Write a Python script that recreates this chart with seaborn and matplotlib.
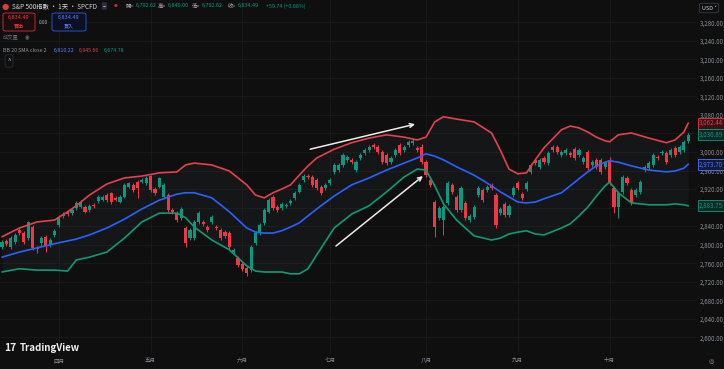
import numpy as np
import pandas as pd
import matplotlib
matplotlib.use('Agg')
import matplotlib.pyplot as plt
import matplotlib.transforms as mtransforms
from matplotlib.patches import FancyBboxPatch
import seaborn as sns

# 日線 K 棒 (index 0..157)
opens = [2795, 2808, 2795, 2806, 2832, 2825, 2815, 2838, 2793, 2804,
         2817, 2799, 2821, 2843, 2862, 2871, 2868, 2879, 2881, 2881,
         2875, 2886, 2894, 2896, 2907, 2912, 2901, 2892, 2903, 2925,
         2929, 2935, 2935, 2933, 2948, 2920, 2925, 2903, 2907, 2875,
         2868, 2858, 2836, 2815, 2815, 2849, 2849, 2838, 2849, 2838,
         2832, 2827, 2825, 2784, 2771, 2758, 2750, 2745, 2804, 2825,
         2847, 2871, 2903, 2881, 2879, 2884, 2890, 2901, 2914, 2940,
         2948, 2946, 2940, 2925, 2922, 2933, 2957, 2961, 2972, 2983,
         2983, 2961, 2987, 2998, 3004, 3015, 3011, 3000, 2994, 2979,
         2994, 3015, 3004, 3015, 3020, 3009, 3011, 2979, 2940, 2892,
         2858, 2853, 2890, 2929, 2903, 2875, 2890, 2853, 2860, 2907,
         2918, 2918, 2929, 2907, 2868, 2888, 2864, 2907, 2933, 2909,
         2920, 2957, 2983, 2968, 2987, 2976, 3011, 3011, 2994, 2998,
         2998, 3007, 2994, 2979, 3000, 2972, 2983, 2983, 2968, 2983,
         2922, 2881, 2914, 2944, 2918, 2907, 2914, 2961, 2966, 2972,
         2989, 2998, 2998, 2994, 3009, 3000, 3004, 3024]
closes = [2806, 2802, 2815, 2821, 2825, 2806, 2849, 2793, 2791, 2815,
          2797, 2810, 2830, 2860, 2866, 2866, 2875, 2890, 2892, 2871,
          2884, 2884, 2903, 2903, 2896, 2892, 2896, 2903, 2929, 2933,
          2918, 2922, 2940, 2944, 2918, 2912, 2944, 2929, 2875, 2871,
          2853, 2877, 2804, 2832, 2849, 2868, 2845, 2832, 2860, 2836,
          2815, 2819, 2795, 2789, 2756, 2748, 2739, 2795, 2825, 2843,
          2875, 2896, 2879, 2875, 2888, 2886, 2894, 2912, 2929, 2948,
          2946, 2929, 2922, 2912, 2929, 2940, 2972, 2972, 2994, 2989,
          2979, 2979, 2994, 3004, 3011, 3011, 3000, 2979, 2976, 2987,
          3004, 2998, 3011, 3022, 3024, 3004, 2979, 2950, 2929, 2838,
          2879, 2881, 2933, 2914, 2875, 2922, 2858, 2862, 2881, 2922,
          2897, 2925, 2922, 2843, 2877, 2864, 2884, 2922, 2922, 2901,
          2933, 2972, 2976, 2983, 2979, 2998, 3004, 3000, 3000, 3004,
          2994, 2987, 3004, 2987, 2966, 2979, 2968, 2957, 2976, 2935,
          2881, 2912, 2946, 2933, 2890, 2918, 2935, 2968, 2976, 2994,
          2987, 3000, 2979, 3004, 2994, 3011, 3022, 3036.89]
highs = [2810, 2812, 2819, 2825, 2836, 2830, 2851, 2843, 2797, 2819,
         2821, 2815, 2834, 2864, 2871, 2875, 2879, 2894, 2896, 2886,
         2888, 2890, 2907, 2907, 2912, 2914, 2905, 2907, 2933, 2935,
         2933, 2940, 2944, 2948, 2950, 2925, 2946, 2933, 2912, 2879,
         2873, 2881, 2840, 2836, 2853, 2873, 2853, 2843, 2864, 2843,
         2836, 2832, 2830, 2793, 2776, 2763, 2754, 2799, 2830, 2847,
         2879, 2901, 2907, 2886, 2892, 2890, 2899, 2916, 2933, 2953,
         2953, 2950, 2944, 2929, 2933, 2944, 2976, 2976, 2998, 2994,
         2987, 2983, 2998, 3009, 3015, 3020, 3015, 3004, 2998, 2991,
         3009, 3020, 3015, 3026, 3028, 3013, 3017, 2983, 2944, 2897,
         2884, 2886, 2938, 2933, 2907, 2927, 2894, 2866, 2886, 2927,
         2922, 2929, 2933, 2912, 2881, 2892, 2888, 2927, 2938, 2914,
         2938, 2976, 2987, 2987, 2991, 3002, 3015, 3015, 3004, 3009,
         3002, 3011, 3009, 2991, 3004, 2983, 2987, 2987, 2981, 2989,
         2927, 2916, 2950, 2948, 2922, 2922, 2940, 2972, 2981, 2998,
         2994, 3004, 3002, 3009, 3013, 3015, 3026, 3041]
lows = [2791, 2797, 2791, 2802, 2821, 2802, 2810, 2789, 2782, 2797,
        2784, 2795, 2817, 2838, 2858, 2862, 2864, 2875, 2879, 2868,
        2871, 2879, 2890, 2894, 2892, 2888, 2894, 2890, 2901, 2922,
        2914, 2901, 2933, 2929, 2914, 2907, 2922, 2899, 2871, 2866,
        2849, 2853, 2795, 2810, 2810, 2845, 2840, 2827, 2845, 2832,
        2810, 2815, 2791, 2780, 2752, 2743, 2733, 2741, 2799, 2821,
        2843, 2868, 2875, 2871, 2875, 2879, 2886, 2896, 2912, 2935,
        2942, 2925, 2918, 2907, 2918, 2929, 2953, 2957, 2968, 2979,
        2974, 2957, 2983, 2994, 3000, 3007, 2996, 2974, 2972, 2974,
        2989, 2994, 3000, 3011, 3015, 3000, 2974, 2946, 2925, 2817,
        2853, 2821, 2886, 2909, 2871, 2871, 2853, 2849, 2856, 2903,
        2892, 2914, 2918, 2836, 2864, 2860, 2860, 2903, 2918, 2897,
        2916, 2953, 2972, 2963, 2974, 2972, 3000, 2996, 2989, 2994,
        2989, 2983, 2989, 2974, 2961, 2968, 2963, 2953, 2963, 2929,
        2868, 2858, 2909, 2929, 2886, 2903, 2909, 2957, 2961, 2968,
        2983, 2994, 2974, 2989, 2989, 2996, 3000, 3020]

# 布林通道 (20, 2) 讀取點
band_idx = [0, 4, 8, 12, 15, 17, 20, 24, 28, 32,
            36, 40, 42, 44, 48, 52, 56, 58, 60, 62,
            64, 66, 68, 70, 72, 76, 80, 84, 88, 92,
            95, 97, 99, 101, 104, 108, 112, 114, 116, 118,
            120, 122, 124, 128, 130, 132, 134, 136, 138, 139,
            141, 144, 148, 152, 154, 156, 157]
bb_upper = [2817, 2836, 2849, 2853, 2871, 2884, 2907, 2931, 2944, 2948,
            2955, 2957, 2972, 2976, 2972, 2959, 2929, 2907, 2901, 2912,
            2920, 2929, 2950, 2970, 2987, 3006, 3020, 3030, 3037, 3032,
            3026, 3032, 3065, 3076, 3071, 3065, 3041, 3004, 2963, 2953,
            2955, 2983, 3009, 3048, 3056, 3052, 3043, 3032, 3024, 3022,
            3037, 3041, 3030, 3020, 3026, 3043, 3062.44]
bb_mid = [2773, 2784, 2793, 2802, 2808, 2812, 2821, 2836, 2855, 2877,
          2896, 2909, 2912, 2912, 2901, 2871, 2836, 2827, 2825, 2825,
          2830, 2838, 2847, 2862, 2877, 2905, 2929, 2944, 2961, 2976,
          2987, 2996, 2991, 2983, 2968, 2950, 2927, 2914, 2903, 2892,
          2890, 2892, 2899, 2912, 2927, 2942, 2957, 2970, 2978, 2981,
          2978, 2970, 2961, 2957, 2959, 2965, 2973.70]
bb_lower = [2741, 2748, 2745, 2745, 2743, 2767, 2773, 2784, 2814, 2849,
            2868, 2868, 2858, 2838, 2810, 2789, 2754, 2743, 2741, 2741,
            2741, 2737, 2737, 2748, 2778, 2836, 2866, 2884, 2914, 2946,
            2963, 2961, 2927, 2888, 2853, 2819, 2810, 2814, 2823, 2827,
            2830, 2823, 2821, 2836, 2845, 2862, 2881, 2905, 2927, 2935,
            2912, 2890, 2886, 2886, 2888, 2886, 2883.75]

month_idx = [13, 34, 55, 75, 97, 118, 139]
month_labels = ['四月', '五月', '六月', '七月', '八月', '九月', '十月']
price_ticks = list(range(2600, 3281, 40))

BG = '#0f0f0f'
UP = '#089981'
DOWN = '#f23645'
BLUE = '#2962ff'
TXT = '#8c8f98'

sns.set_theme(style='dark', rc={'axes.facecolor': BG, 'figure.facecolor': BG})
plt.rcParams['font.family'] = ['Noto Sans CJK TC', 'DejaVu Sans']

candles = pd.DataFrame({'open': opens, 'high': highs, 'low': lows, 'close': closes})
candles['idx'] = np.arange(len(candles))
candles['up'] = candles['close'] >= candles['open']
bands = pd.DataFrame({'idx': band_idx, 'upper': bb_upper, 'mid': bb_mid, 'lower': bb_lower})

fig = plt.figure(figsize=(7.24, 3.69), dpi=100)
ax = fig.add_axes([0, 15 / 369, 697 / 724, 354 / 369])
ax.set_facecolor(BG)

# 通道底色
ax.fill_between(bands['idx'], bands['upper'], bands['lower'], color='#8a96a8', alpha=0.055, lw=0)

# K 棒
cols = np.where(candles['up'], UP, DOWN)
ax.vlines(candles['idx'], candles['low'], candles['high'], colors=cols, lw=0.7, zorder=3)
body_lo = np.minimum(candles['open'], candles['close'])
body_h = np.maximum(np.abs(candles['close'] - candles['open']), 1.2)
ax.bar(candles['idx'], body_h, bottom=body_lo, width=0.72, color=cols, lw=0, zorder=3)

# 布林線
sns.lineplot(data=bands, x='idx', y='upper', color='#e5404f', lw=1.2, ax=ax, zorder=4)
sns.lineplot(data=bands, x='idx', y='mid', color=BLUE, lw=1.2, ax=ax, zorder=4)
sns.lineplot(data=bands, x='idx', y='lower', color='#0e9a74', lw=1.2, ax=ax, zorder=4)

# 箭頭
arrow_kw = dict(arrowstyle='->', color='#ececec', lw=1.1, mutation_scale=7, shrinkA=0, shrinkB=0)
ax.annotate('', xy=(94.5, 3060), xytext=(70.5, 3006), arrowprops=arrow_kw, zorder=6)
ax.annotate('', xy=(96.3, 2948), xytext=(76.4, 2797), arrowprops=arrow_kw, zorder=6)

# 右側價格標籤值 (會蓋住附近刻度)
tags = [(bb_upper[-1], '#f23645', '#3a1216'),
        (closes[-1], UP, '#0b2a24'),
        (bb_mid[-1], '#4a78ff', '#121c3a'),
        (bb_lower[-1], UP, '#0b2a24')]
hidden = [t for t in price_ticks if any(abs(t - v) < 10 for v, _, _ in tags)]

ax.set_xlim(-0.46, 159.0)
ax.set_ylim(2564, 3328)
ax.set_xticks(month_idx)
ax.set_xticklabels(month_labels)
ax.set_yticks(price_ticks)
ax.set_yticklabels(['' if v in hidden else f'{v:,.2f}' for v in price_ticks])
ax.yaxis.tick_right()
ax.tick_params(axis='x', length=0, pad=3, labelsize=4, labelcolor=TXT)
ax.tick_params(axis='y', length=0, pad=2, labelsize=4.4, labelcolor=TXT)
ax.grid(True, color='#1a1a1a', lw=0.6)
ax.set_xlabel('')
ax.set_ylabel('')
for s in ax.spines.values():
    s.set_visible(False)

trans = mtransforms.blended_transform_factory(ax.transAxes, ax.transData)
for val, fg, bgc in tags:
    ax.text(1.003, val, f'{val:,.2f}', transform=trans, fontsize=4.4, color=fg,
            va='center', ha='left', clip_on=False, zorder=10,
            bbox=dict(boxstyle='square,pad=0.25', fc=bgc, ec=fg, lw=0.6))


def fx(x):
    return x / 724


def fy(y):
    return 1 - y / 369


# 標題列
fig.text(fx(2), fy(6), '●', fontsize=6, color='#e03a3a', va='center', family='DejaVu Sans')
fig.text(fx(12), fy(6), 'S&P 500指數 · 1天 · SPCFD', fontsize=4.6, color='#d1d4dc', va='center')
fig.text(fx(103), fy(6), '−', fontsize=3.6, color='#d1d4dc', va='center',
         bbox=dict(boxstyle='round,pad=0.25', fc='#2a2e39', ec='none'))
fig.text(fx(114), fy(6), '●', fontsize=3.2, color='#c03030', va='center', family='DejaVu Sans')
ohlc = [(126, '開', '6,792.62'), (158, '高', '6,840.00'), (192, '低', '6,792.62'), (228, '收', '6,834.49')]
for x, k, v in ohlc:
    fig.text(fx(x), fy(6), k + '=', fontsize=3.9, color='#b2b5be', va='center')
    fig.text(fx(x + 9.5), fy(6), v, fontsize=3.9, color=UP, va='center')
fig.text(fx(266), fy(6), '+59.74 (+0.88%)', fontsize=3.9, color=UP, va='center')

# 買賣按鈕
fig.patches.append(FancyBboxPatch((fx(3), fy(31)), 32 / 724, 18 / 369, transform=fig.transFigure,
                                  boxstyle='round,pad=0,rounding_size=0.004', fc='#1c0c0e', ec='#c8353f', lw=0.6))
fig.patches.append(FancyBboxPatch((fx(52), fy(31)), 34 / 724, 18 / 369, transform=fig.transFigure,
                                  boxstyle='round,pad=0,rounding_size=0.004', fc='#0c1020', ec='#2f5bd8', lw=0.6))
fig.text(fx(19), fy(17.5), '6,834.49', fontsize=4.0, color='#f23645', ha='center', va='center')
fig.text(fx(19), fy(25.5), '賣出', fontsize=3.6, color='#f23645', ha='center', va='center')
fig.text(fx(69), fy(17.5), '6,834.49', fontsize=4.0, color='#5b84ff', ha='center', va='center')
fig.text(fx(69), fy(25.5), '買入', fontsize=3.6, color='#5b84ff', ha='center', va='center')
fig.text(fx(43.5), fy(22), '0.00', fontsize=3.4, color='#b2b5be', ha='center', va='center')

fig.text(fx(3), fy(38), '成交量', fontsize=3.8, color='#6a6d78', va='center')
fig.text(fx(25), fy(38), '◉', fontsize=3.8, color='#6a6d78', va='center', family='DejaVu Sans')

fig.text(fx(3), fy(50), 'BB 20 SMA close 2', fontsize=3.8, color='#9598a1', va='center')
fig.text(fx(54), fy(50), '6,810.22', fontsize=3.8, color='#5b84ff', va='center')
fig.text(fx(79), fy(50), '6,945.66', fontsize=3.8, color='#f23645', va='center')
fig.text(fx(104), fy(50), '6,674.78', fontsize=3.8, color=UP, va='center')
fig.text(fx(9), fy(61), '^', fontsize=4.5, color='#b2b5be', ha='center', va='center',
         bbox=dict(boxstyle='round,pad=0.35', fc=BG, ec='#2a2e39', lw=0.6))

fig.text(fx(709), fy(8), 'USD ˅', fontsize=4, color='#d1d4dc', ha='center', va='center',
         family=['Noto Sans CJK TC', 'DejaVu Sans'],
         bbox=dict(boxstyle='round,pad=0.4', fc=BG, ec='#3a3e49', lw=0.6))

# 底部 logo
fig.text(fx(4), fy(348), '17', fontsize=7.5, color='#ececec', va='center', weight='bold')
fig.text(fx(20), fy(348), 'TradingView', fontsize=7, color='#ececec', va='center', weight='bold')
fig.text(fx(711), fy(362), '◎', fontsize=4.5, color='#9598a1', ha='center', va='center', family='DejaVu Sans')

fig.savefig('out.png', dpi=100, facecolor=BG)
